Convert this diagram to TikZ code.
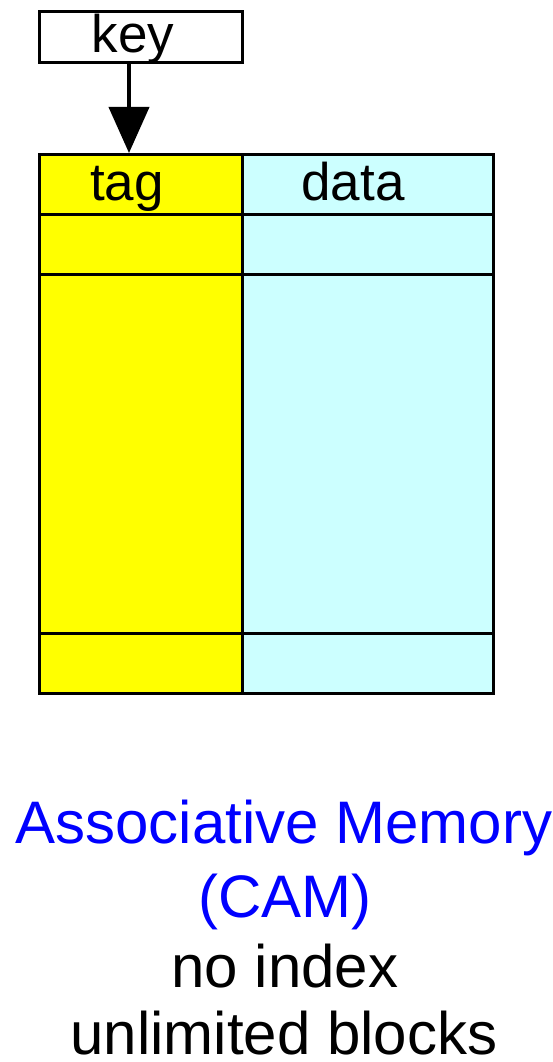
\documentclass[tikz,border=0pt]{standalone}
\usepackage{fontspec}
\setmainfont{Liberation Sans}
\usetikzlibrary{arrows.meta}
\definecolor{tagyellow}{HTML}{FFFF00}
\definecolor{datacyan}{HTML}{CCFFFF}
\definecolor{camblue}{HTML}{0000FF}
\tikzset{
  cell/.style={draw=black, line width=3pt, inner sep=0pt, anchor=north west},
  lbl/.style={anchor=base, inner sep=0pt, font=\fontsize{53}{60}\selectfont},
  big/.style={anchor=base, inner sep=0pt, font=\fontsize{60}{72}\selectfont},
}
\begin{document}
\begin{tikzpicture}[x=1pt,y=-1pt]
\useasboundingbox (0,0) rectangle (552,1062);
% key box
\node[cell, fill=white, minimum width=203pt, minimum height=51pt] (key) at (38,10) {};
\node[lbl] (keytxt) at (133,53) {key};
% table columns
\node[cell, fill=tagyellow, minimum width=203pt, minimum height=539pt] (tagcol) at (38,153) {};
\node[cell, fill=datacyan, minimum width=251pt, minimum height=539pt] (datacol) at (241,153) {};
% row separators
\foreach \yy in {214,274,633}{
  \draw[line width=3pt] (tagcol.west |- 0,\yy) -- (datacol.east |- 0,\yy);
}
\node[lbl] (tagtxt) at (127,200) {tag};
\node[lbl] (datatxt) at (353,200) {data};
% arrow
\coordinate (ax) at (129,0);
\draw[line width=4pt, -{Triangle[length=46pt,width=40pt]}] (key.south -| ax) -- (tagcol.north -| ax);
% captions
\node[big, text=camblue] (t1) at (284,843) {Associative Memory};
\node[big, text=camblue] (t2) at (285,917) {(CAM)};
\node[big] (t3) at (285,987) {no index};
\node[big, text depth=0pt] (t4) at (284,1054) {unlimited blocks};
\end{tikzpicture}
\end{document}
